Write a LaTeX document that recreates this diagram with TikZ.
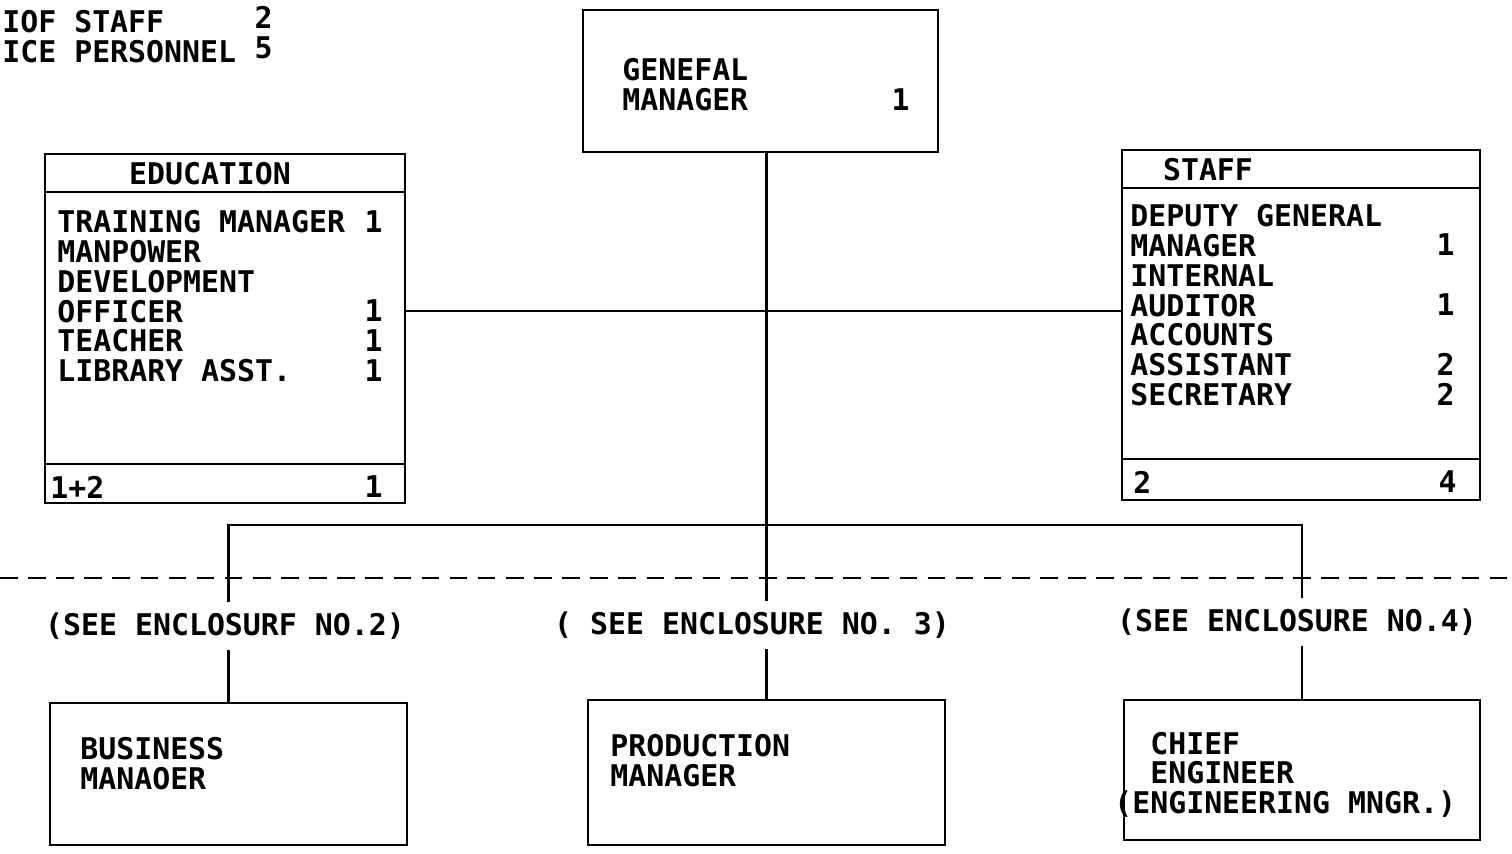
\documentclass[tikz,border=0pt]{standalone}
\usepackage{fontspec}
\newfontfamily\typer{DejaVu Sans Mono}
\usetikzlibrary{positioning,fit}

\begin{document}
\begin{tikzpicture}[
  x=0.02cm,y=-0.02cm,
  font=\typer\bfseries\fontsize{17}{17}\selectfont,
  box/.style={rectangle,draw,line width=1.6pt,inner sep=0pt},
  txt/.style={inner sep=0pt,align=left,anchor=north west},
  num/.style={inner sep=0pt,align=right,anchor=north east},
  enc/.style={inner xsep=0pt,inner ysep=6pt},
  link/.style={line width=1.3pt},
  cut/.style={line width=1.5pt,dash pattern=on 10pt off 6pt}
]
\useasboundingbox (0,0) rectangle (1512,854);

% counts, top left
\node[txt] (cnt) at (2,10) {IOF STAFF\\ICE PERSONNEL};
\node[num] (cntnum) at (273,6) {2\\5};

% general manager
\node[box,fit={(583,10) (938,152)}] (gm) {};
\node[txt] (gmtxt) at (622,58) {GENEFAL\\MANAGER};
\node[num] (gmnum) at (910,88) {1};

% education unit
\node[box,fit={(45,154) (405,503)}] (edu) {};
\draw[link] (edu.west |- 0,192) -- (edu.east |- 0,192);
\draw[link] (edu.west |- 0,464) -- (edu.east |- 0,464);
\node[inner sep=0pt] (eduhead) at (210,174) {EDUCATION};
\node[txt] (edulist) at (57,210) {TRAINING MANAGER\\MANPOWER\\DEVELOPMENT\\OFFICER\\TEACHER\\LIBRARY ASST.};
\node[num] (edunum) at (383,210) {1\\\phantom{1}\\\phantom{1}\\1\\1\\1};
\node[inner sep=0pt,anchor=west] (edufootl) at (50,487) {1+2};
\node[inner sep=0pt,anchor=east] (edufootr) at (383,487) {1};

% staff unit
\node[box,fit={(1122,150) (1480,500)}] (staff) {};
\draw[link] (staff.west |- 0,188) -- (staff.east |- 0,188);
\draw[link] (staff.west |- 0,459) -- (staff.east |- 0,459);
\node[inner sep=0pt] (staffhead) at (1208,170) {STAFF};
\node[txt] (stafflist) at (1130,204) {DEPUTY GENERAL\\MANAGER\\INTERNAL\\AUDITOR\\ACCOUNTS\\ASSISTANT\\SECRETARY};
\node[num] (staffnum) at (1455,204) {\phantom{1}\\1\\\phantom{1}\\1\\\phantom{1}\\2\\2};
\node[inner sep=0pt,anchor=west] (stafffootl) at (1133,482) {2};
\node[inner sep=0pt,anchor=east] (stafffootr) at (1457,482) {4};

% line managers
\node[box,fit={(50,703) (407,845)}] (biz) {};
\node[txt] (biztxt) at (80,737) {BUSINESS\\MANAOER};
\node[box,fit={(588,700) (945,845)}] (prod) {};
\node[txt] (prodtxt) at (610,734) {PRODUCTION\\MANAGER};
\node[box,fit={(1124,700) (1480,840)}] (chief) {};
\node[txt] (chieftxt) at (1114,731) {\phantom{((}CHIEF\\\phantom{((}ENGINEER\\(ENGINEERING MNGR.)};

\node[enc] (enc2) at (225,626) {(SEE ENCLOSURF NO.2)};
\node[enc] (enc3) at (752,625) {( SEE ENCLOSURE NO. 3)};
\node[enc] (enc4) at (1297,622) {(SEE ENCLOSURE NO.4)};

\coordinate (cutl) at (0,578);
\coordinate (cutr) at (1512,578);
\coordinate (bar) at (765,525);
\coordinate (side) at (765,311);

\draw[cut] (cutl) -- (cutr);
\draw[link] (edu.east |- side) -- (staff.west |- side);
\draw[link] (gm.south -| prod.north) -- (prod.north |- enc3.north);
\draw[link] (prod.north |- enc3.south) -- (prod.north);
\draw[link] (biz.north |- enc2.north) |- (bar) -| (chief.north |- enc4.north);
\draw[link] (biz.north |- enc2.south) -- (biz.north);
\draw[link] (chief.north |- enc4.south) -- (chief.north);
\end{tikzpicture}
\end{document}
